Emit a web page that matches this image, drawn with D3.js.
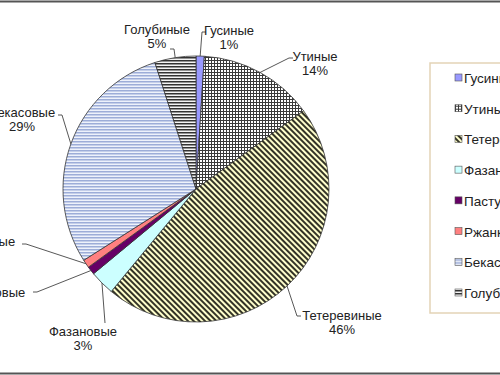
<!DOCTYPE html>
<html>
<head>
<meta charset="utf-8">
<script src="https://cdn.jsdelivr.net/npm/d3@7"></script>
<style>
  body { margin: 0; background: #fff; }
  svg { display: block; font-family: "Liberation Sans", Arial, sans-serif; }
</style>
</head>
<body>
<svg width="500" height="375"></svg>
<script>
// data
var categories = ["Гусиные", "Утиные", "Тетеревиные", "Фазановые", "Пастушковые", "Ржанковые", "Бекасовые", "Голубиные"];
var values = [1, 14, 46, 3, 1, 1, 29, 5];
var fills = ["#9999ff", "url(#grid)", "url(#diag)", "#ccffff", "#660066", "#ff8080", "url(#hblue)", "url(#hdark)"];

// label layout (center of text block, first baseline) and leader elbow, relative to pie center
var labelAt = [
  { x: 33, y: -154, ex: 6, ey: -157 },
  { x: 119, y: -128, ex: 93, ey: -131 },
  { x: 146, y: 131, ex: 101, ey: 127 },
  { x: -113, y: 147, ex: -91, ey: 134 },
  { x: -212, y: 108, ex: -159, ey: 103 },
  { x: -215, y: 57, ex: -170, ey: 55 },
  { x: -174, y: -72, ex: -134, ey: -74 },
  { x: -39, y: -155, ex: -22, ey: -140 }
];

var svg = d3.select("svg"),
    cx = 196,
    cy = 189,
    radius = 133

var defs = svg.append("defs");

var p = defs.append("pattern").attr("id", "grid").attr("patternUnits", "userSpaceOnUse")
  .attr("width", 3).attr("height", 3);
p.append("rect").attr("width", 3).attr("height", 3).attr("fill", "#fff");
p.append("rect").attr("width", 3).attr("height", 1).attr("fill", "#3a3a3a");
p.append("rect").attr("width", 1).attr("height", 3).attr("fill", "#3a3a3a");

p = defs.append("pattern").attr("id", "diag").attr("patternUnits", "userSpaceOnUse")
  .attr("width", 4).attr("height", 4).attr("patternTransform", "rotate(-45)");
p.append("rect").attr("width", 4).attr("height", 4).attr("fill", "#ffffcc");
p.append("rect").attr("width", 2).attr("height", 4).attr("fill", "#333326");

p = defs.append("pattern").attr("id", "hblue").attr("patternUnits", "userSpaceOnUse")
  .attr("width", 3).attr("height", 3);
p.append("rect").attr("width", 3).attr("height", 3).attr("fill", "#eef2fb");
p.append("rect").attr("width", 3).attr("height", 1.5).attr("fill", "#9dadd8");

p = defs.append("pattern").attr("id", "hdark").attr("patternUnits", "userSpaceOnUse")
  .attr("width", 3).attr("height", 3);
p.append("rect").attr("width", 3).attr("height", 3).attr("fill", "#f4f4f4");
p.append("rect").attr("width", 3).attr("height", 1.5).attr("fill", "#333");

// frame lines
svg.append("rect")
   .attr("x", -5).attr("y", 1.5)
   .attr("width", 510).attr("height", 372)
   .attr("fill", "none")
   .attr("stroke", "#555")
   .attr("stroke-width", 2);

var pie = d3.pie().sort(null).value(function(d) { return d; });
var arcs = pie(values);
var arc = d3.arc().innerRadius(0).outerRadius(radius);

var g = svg.append("g").attr("transform", "translate(" + cx + "," + cy + ")");

g.selectAll(".slice")
 .data(arcs)
 .enter().append("path")
 .attr("class", "slice")
 .attr("d", arc)
 .attr("fill", function(d, i) { return fills[i]; })
 .attr("stroke", "#333")
 .attr("stroke-width", 0.8);

// leader lines
g.selectAll(".leader")
 .data(arcs)
 .enter().append("polyline")
 .attr("class", "leader")
 .attr("fill", "none")
 .attr("stroke", "#444")
 .attr("stroke-width", 0.9)
 .attr("points", function(d, i) {
   var a = (d.startAngle + d.endAngle) / 2,
       sx = radius * Math.sin(a),
       sy = -radius * Math.cos(a),
       L = labelAt[i],
       pts = [[sx, sy], [L.ex, L.ey]];
   if (i != 3) pts.push([L.ex + (L.x > sx ? 4 : -4), L.ey]);
   return pts.map(function(q) { return q.join(","); }).join(" ");
 });

var labels = g.selectAll(".lbl")
 .data(arcs)
 .enter().append("text")
 .attr("class", "lbl")
 .attr("text-anchor", "middle")
 .attr("font-size", "13px")
 .attr("fill", "#222");

labels.append("tspan")
 .attr("x", function(d, i) { return labelAt[i].x; })
 .attr("y", function(d, i) { return labelAt[i].y; })
 .text(function(d, i) { return categories[i]; });

labels.append("tspan")
 .attr("x", function(d, i) { return labelAt[i].x; })
 .attr("y", function(d, i) { return labelAt[i].y + 14; })
 .text(function(d, i) { return values[i] + "%"; });

// legend
var lg = svg.append("g").attr("transform", "translate(430,63)");
lg.append("rect")
  .attr("width", 100).attr("height", 250)
  .attr("fill", "#fff")
  .attr("stroke", "#e3d3b6")
  .attr("stroke-width", 1.5);

var yLeg = d3.scalePoint().domain(categories).range([15, 230]);

var items = lg.selectAll(".item")
  .data(categories)
  .enter().append("g")
  .attr("class", "item")
  .attr("transform", function(d) { return "translate(25," + yLeg(d) + ")"; });

items.append("rect")
  .attr("x", 0).attr("y", -4)
  .attr("width", 7).attr("height", 7)
  .attr("fill", function(d, i) { return fills[i]; })
  .attr("stroke", "#555")
  .attr("stroke-width", 0.6);

items.append("text")
  .attr("x", 9).attr("y", 5)
  .attr("font-size", "13.5px")
  .attr("fill", "#222")
  .text(function(d) { return d; });
</script>
</body>
</html>
